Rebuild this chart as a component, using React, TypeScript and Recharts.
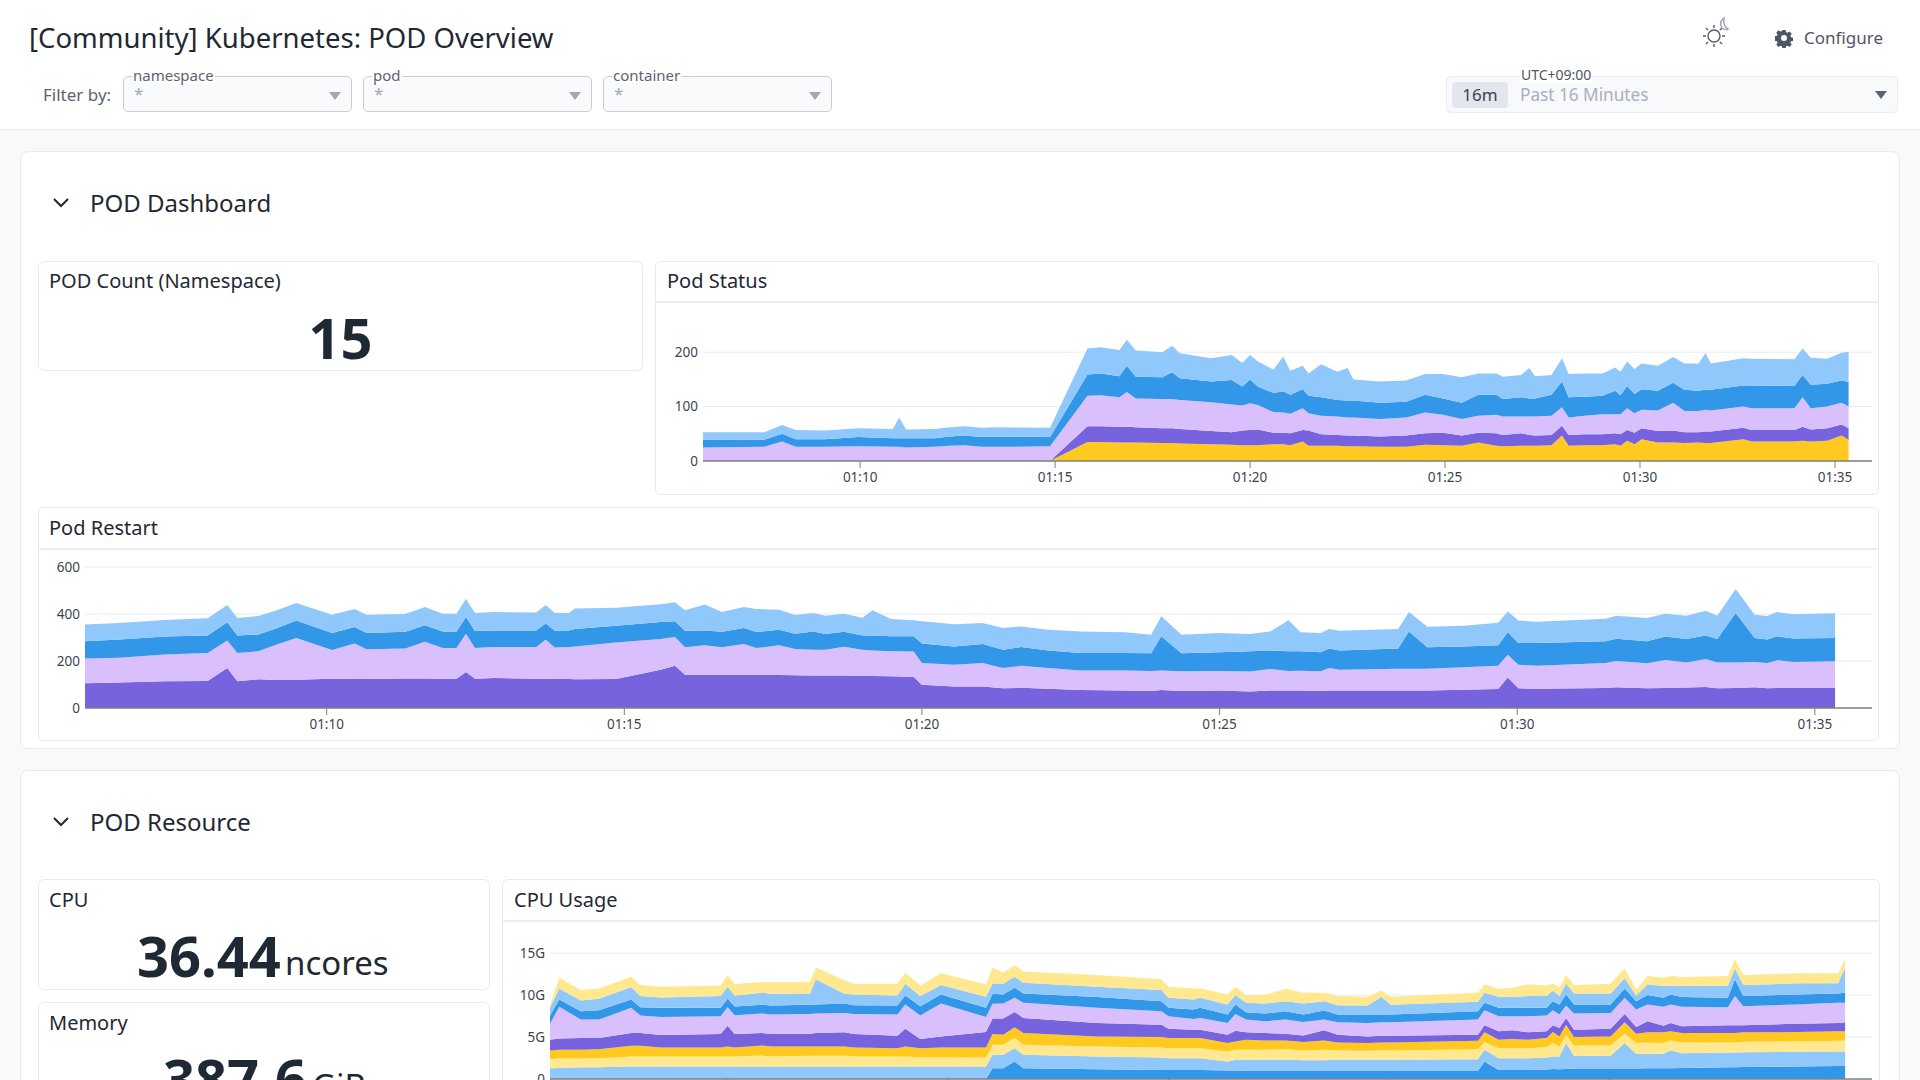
import { Area, AreaChart, CartesianGrid, XAxis, YAxis } from "recharts";

const timeTicks = [10, 15, 20, 25, 30, 35];

// Pod Status (minutes after 01:00, stacked counts, bottom to top)
const statusTimes = [5.97, 7.54, 8.0, 8.35, 9.1, 9.95, 10.84, 11.0, 11.18, 11.9, 12.3, 12.67, 13.1, 13.5, 14.87, 15.83, 16.17, 16.65, 16.84, 17.07, 17.75, 18.0, 18.2, 19.0, 19.53, 19.8, 20.0, 20.2, 20.6, 20.85, 21.03, 21.35, 21.5, 21.82, 22.24, 22.5, 22.65, 23.33, 24.0, 24.49, 24.95, 25.43, 25.85, 26.32, 26.48, 26.95, 27.16, 27.31, 27.73, 28.0, 28.17, 28.57, 29.04, 29.36, 29.5, 29.67, 29.86, 30.04, 30.46, 30.85, 31.14, 31.5, 31.68, 31.82, 32.65, 32.86, 33.96, 34.17, 34.38, 34.8, 35.17, 35.35];
const statusYellow = [0, 0, 0, 0, 0, 0, 0, 0, 0, 0, 0, 0, 0, 0, 0, 35, 35, 34, 34, 34, 33, 33, 32, 31, 30, 29, 29, 29, 31, 31, 29, 36, 28, 28, 28, 27, 27, 26, 26, 30, 29, 28, 34, 28, 27, 28, 28, 28, 29, 47, 28, 29, 29, 31, 28, 37, 31, 40, 34, 34, 33, 34, 33, 33, 40, 36, 36, 37, 36, 37, 47, 39];
const statusPurple = [0, 0, 0, 0, 0, 0, 0, 0, 0, 0, 0, 0, 0, 0, 0, 29, 29, 29, 29, 28, 27, 27, 27, 24, 23, 27, 28, 29, 21, 21, 22, 21, 28, 21, 20, 20, 20, 19, 21, 21, 23, 19, 18, 23, 21, 23, 20, 19, 19, 18, 20, 20, 20, 20, 21, 20, 21, 20, 21, 22, 20, 19, 21, 21, 21, 21, 21, 26, 22, 23, 20, 21];
const statusLilac = [25, 26, 36, 26, 26, 27, 26, 26, 25, 26, 28, 29, 26, 26, 27, 56, 57, 54, 64, 53, 54, 54, 53, 53, 51, 46, 49, 45, 38, 37, 36, 40, 32, 34, 34, 33, 33, 32, 33, 38, 33, 30, 31, 34, 34, 31, 34, 35, 35, 34, 32, 34, 37, 35, 37, 40, 36, 34, 38, 51, 39, 39, 40, 39, 39, 40, 40, 54, 39, 40, 40, 40];
const statusBlue = [14, 13, 14, 14, 14, 17, 16, 16, 17, 16, 17, 18, 18, 19, 17, 39, 40, 39, 48, 40, 40, 49, 40, 38, 45, 35, 44, 34, 35, 39, 35, 35, 32, 34, 30, 31, 31, 30, 29, 33, 30, 30, 39, 37, 32, 35, 33, 33, 39, 47, 37, 35, 34, 43, 35, 41, 35, 38, 36, 37, 39, 37, 37, 38, 39, 42, 41, 41, 43, 42, 41, 45];
const statusLight = [14, 14, 16, 17, 16, 16, 17, 38, 16, 17, 17, 17, 17, 17, 17, 48, 48, 48, 48, 48, 46, 49, 46, 43, 46, 43, 45, 46, 43, 64, 44, 43, 41, 61, 52, 60, 39, 39, 39, 38, 45, 47, 39, 39, 41, 41, 56, 41, 36, 43, 43, 43, 41, 43, 43, 45, 46, 47, 46, 47, 48, 50, 67, 48, 50, 49, 49, 49, 50, 46, 51, 56];

// Pod Restart
const restartTimes = [5.94, 6.52, 7.28, 8.0, 8.33, 8.5, 8.85, 9.16, 9.49, 10.09, 10.47, 10.67, 11.32, 11.65, 11.95, 12.18, 12.34, 12.49, 12.8, 13.52, 13.68, 13.83, 14.07, 14.17, 14.86, 15.61, 15.85, 16.02, 16.35, 16.64, 17.01, 17.22, 17.6, 17.87, 18.18, 18.38, 18.69, 19.0, 19.17, 19.48, 19.86, 20.0, 20.54, 21.02, 21.36, 21.67, 22.12, 22.67, 23.42, 23.85, 24.02, 24.36, 24.99, 25.51, 25.85, 26.16, 26.36, 26.7, 26.84, 27.01, 28.0, 28.18, 28.49, 29.1, 29.68, 29.84, 30.02, 30.33, 31.49, 31.66, 32.18, 32.49, 32.84, 33.17, 33.36, 33.67, 33.99, 34.2, 34.37, 34.64, 35.34];
const restartPurple = [105, 109, 114, 115, 170, 114, 122, 119, 120, 125, 123, 123, 126, 126, 125, 125, 153, 125, 128, 125, 125, 123, 123, 122, 123, 163, 180, 142, 142, 142, 142, 140, 140, 139, 138, 138, 138, 136, 136, 135, 132, 99, 92, 91, 84, 86, 82, 77, 74, 72, 77, 72, 75, 70, 75, 75, 74, 72, 74, 74, 75, 75, 75, 78, 81, 130, 84, 82, 85, 88, 84, 85, 87, 89, 84, 85, 88, 84, 85, 85, 85];
const restartLilac = [106, 105, 114, 119, 117, 120, 119, 151, 178, 122, 152, 127, 127, 156, 130, 130, 163, 130, 132, 135, 167, 134, 137, 140, 156, 131, 122, 116, 125, 116, 130, 115, 127, 112, 110, 110, 123, 112, 109, 106, 108, 92, 92, 100, 86, 94, 88, 83, 86, 85, 83, 84, 82, 85, 91, 82, 85, 84, 96, 89, 92, 92, 92, 95, 99, 97, 100, 98, 106, 112, 106, 119, 107, 119, 110, 109, 108, 107, 118, 111, 114];
const restartBlue = [73, 77, 76, 75, 78, 75, 72, 69, 74, 72, 70, 69, 72, 70, 71, 70, 71, 73, 70, 70, 68, 72, 70, 74, 71, 72, 67, 71, 63, 67, 68, 68, 66, 65, 78, 67, 64, 61, 63, 64, 65, 83, 78, 81, 78, 80, 75, 74, 74, 76, 145, 77, 80, 86, 79, 84, 82, 81, 83, 82, 86, 159, 91, 89, 87, 95, 93, 97, 93, 95, 94, 100, 100, 101, 100, 210, 102, 100, 102, 100, 99];
const restartLight = [71, 71, 70, 73, 73, 74, 78, 77, 75, 78, 76, 78, 75, 78, 75, 76, 78, 76, 78, 76, 78, 75, 74, 87, 77, 76, 81, 87, 110, 83, 90, 98, 85, 80, 78, 78, 76, 75, 108, 74, 68, 95, 94, 90, 92, 87, 88, 92, 88, 79, 85, 79, 82, 74, 81, 132, 81, 82, 83, 84, 83, 82, 88, 88, 96, 89, 95, 90, 96, 98, 99, 97, 99, 105, 99, 102, 99, 100, 103, 103, 105];

// CPU Usage (G)
const cpuTimes = [5.97, 6.18, 6.67, 7.08, 7.81, 8.02, 8.49, 9.84, 10.0, 10.16, 10.78, 10.99, 11.87, 12.0, 12.65, 12.86, 13.85, 14.03, 14.37, 14.84, 15.86, 16.01, 16.25, 16.51, 16.71, 18.38, 19.84, 20.0, 20.57, 20.72, 21.34, 21.52, 21.76, 22.18, 22.65, 23.06, 23.53, 23.84, 24.52, 24.83, 25.04, 27.02, 27.17, 27.49, 27.8, 28.16, 28.58, 28.72, 28.87, 29.02, 29.2, 30.03, 30.35, 30.61, 30.87, 31.23, 31.39, 31.65, 32.69, 32.85, 33.04, 34.25, 35.19, 35.35];
const cpuBlueLow = [0, 0, 0, 0, 0, 0, 0, 0, 0, 0, 0, 0, 0, 0, 0, 0, 0, 0, 0, 0, 0, 1.28, 1.28, 2.08, 1.28, 1.16, 1.08, 1.08, 1.08, 1.08, 1.0, 1.0, 0.96, 0.96, 0.96, 0.96, 0.96, 0.96, 0.96, 0.96, 0.96, 0.96, 2.08, 1.08, 1.08, 1.08, 1.12, 1.2, 1.16, 1.2, 1.24, 1.24, 1.24, 1.24, 1.28, 1.28, 1.28, 1.32, 1.4, 1.4, 1.44, 1.48, 1.56, 1.56];
const cpuLightLow = [1.28, 1.32, 1.4, 1.4, 1.48, 1.48, 1.48, 1.48, 1.48, 1.48, 1.48, 1.48, 1.48, 1.48, 1.48, 1.48, 1.48, 1.48, 1.48, 1.48, 1.48, 1.6, 1.6, 1.6, 1.6, 1.52, 1.48, 1.4, 1.4, 1.4, 1.08, 1.28, 1.32, 1.32, 1.32, 1.28, 1.28, 1.32, 1.32, 1.32, 1.32, 1.4, 1.4, 1.4, 1.4, 1.4, 1.44, 1.48, 1.52, 3.08, 1.52, 1.52, 3.04, 1.76, 1.72, 1.72, 2.12, 1.76, 1.76, 1.76, 1.76, 1.76, 1.72, 1.72];
const cpuPaleLow = [1.08, 1.12, 1.04, 1.08, 1.2, 1.2, 1.2, 1.2, 1.2, 1.2, 1.32, 1.2, 1.28, 1.28, 1.28, 1.2, 1.2, 1.2, 1.12, 1.12, 1.08, 1.2, 1.2, 1.2, 1.2, 1.2, 1.2, 1.2, 1.2, 1.2, 1.2, 1.2, 1.2, 1.2, 1.28, 1.16, 1.24, 1.12, 1.08, 1.12, 1.12, 1.2, 0.92, 1.2, 1.2, 1.2, 1.24, 1.6, 1.2, 1.0, 1.24, 1.24, 1.12, 1.28, 1.36, 1.28, 1.2, 1.28, 1.2, 1.2, 1.24, 1.24, 1.28, 1.28];
const cpuYellow = [1.04, 1.04, 1.04, 1.08, 1.28, 1.28, 1.08, 1.08, 1.2, 1.08, 1.2, 1.2, 1.12, 1.12, 1.12, 1.08, 1.0, 1.2, 1.08, 1.16, 1.2, 1.28, 1.2, 1.28, 1.4, 1.2, 1.24, 1.2, 1.2, 1.2, 1.0, 1.0, 1.2, 1.12, 1.04, 1.0, 1.12, 0.96, 0.92, 0.96, 0.96, 1.0, 1.16, 1.0, 1.08, 1.0, 1.08, 1.32, 1.2, 1.2, 1.0, 1.08, 1.36, 1.12, 1.2, 1.28, 1.08, 1.12, 1.12, 1.12, 1.12, 1.12, 1.12, 1.12];
const cpuPurple = [1.28, 1.36, 1.4, 1.32, 1.52, 1.52, 1.48, 1.6, 2.48, 1.6, 1.48, 1.48, 1.52, 1.6, 1.68, 1.6, 1.48, 2.12, 1.08, 1.32, 1.84, 1.84, 1.92, 1.84, 1.8, 1.6, 1.48, 1.12, 1.0, 1.0, 1.0, 1.28, 0.88, 0.88, 0.8, 0.8, 1.2, 0.92, 0.8, 0.8, 0.8, 0.72, 0.84, 1.0, 1.04, 0.88, 0.8, 0.8, 1.0, 0.8, 0.88, 0.92, 1.0, 0.8, 1.32, 0.8, 1.0, 0.8, 0.92, 0.92, 0.84, 1.0, 1.0, 1.08];
const cpuLilac = [1.92, 3.76, 2.2, 2.2, 3.0, 2.08, 2.16, 2.12, 2.2, 2.24, 2.32, 2.32, 2.36, 2.32, 2.32, 2.4, 2.52, 2.88, 2.8, 3.92, 1.8, 1.76, 1.8, 1.68, 1.8, 1.8, 1.6, 1.48, 1.28, 1.4, 1.4, 2.0, 1.52, 1.4, 1.68, 1.6, 1.28, 1.48, 1.6, 1.6, 1.6, 1.8, 1.8, 1.8, 1.68, 1.92, 1.88, 1.8, 1.6, 1.48, 1.92, 1.88, 1.92, 2.08, 2.0, 2.24, 2.2, 2.32, 2.16, 3.48, 2.28, 2.28, 2.4, 2.32];
const cpuBlueHigh = [0.96, 0.88, 1.0, 1.12, 1.0, 1.0, 1.08, 1.0, 1.0, 1.04, 1.04, 1.08, 1.08, 1.08, 1.12, 1.04, 1.08, 1.08, 1.12, 1.08, 1.08, 1.2, 1.08, 1.2, 1.12, 1.28, 1.2, 1.0, 1.12, 1.2, 1.0, 1.12, 0.88, 0.92, 1.0, 0.88, 1.08, 0.92, 1.0, 0.92, 0.92, 1.0, 0.88, 1.0, 1.0, 1.0, 0.92, 1.08, 1.2, 1.32, 1.08, 1.0, 1.12, 1.0, 1.12, 1.08, 1.2, 1.16, 1.12, 2.0, 1.2, 1.2, 1.12, 1.2];
const cpuLightHigh = [0.92, 1.32, 1.28, 1.36, 1.48, 1.32, 1.24, 1.4, 1.44, 1.32, 1.44, 1.4, 1.36, 3.0, 1.16, 1.28, 1.2, 1.4, 1.2, 1.12, 1.32, 1.24, 1.28, 1.32, 1.28, 1.24, 1.32, 1.2, 1.2, 1.2, 1.2, 1.12, 1.12, 1.2, 1.2, 1.32, 1.12, 1.12, 1.08, 2.12, 1.16, 1.12, 1.2, 1.32, 1.32, 1.4, 1.4, 1.28, 1.0, 1.32, 1.32, 1.32, 1.2, 0.68, 1.28, 1.4, 1.08, 1.32, 1.4, 1.28, 1.32, 1.32, 1.2, 3.0];
const cpuPaleHigh = [0.28, 1.28, 1.24, 1.24, 1.24, 1.32, 1.28, 1.28, 1.36, 1.36, 1.28, 1.4, 1.36, 1.4, 1.6, 1.28, 1.4, 1.32, 1.28, 1.4, 1.48, 1.88, 1.32, 1.4, 1.32, 1.4, 1.28, 1.32, 1.32, 1.12, 1.2, 1.0, 0.92, 1.0, 1.48, 1.28, 1.0, 1.08, 1.04, 0.76, 0.96, 1.08, 1.0, 0.96, 1.08, 1.4, 1.28, 0.84, 1.0, 1.0, 1.0, 1.16, 1.2, 0.72, 1.0, 1.0, 1.12, 1.08, 1.2, 1.12, 1.2, 1.2, 1.2, 1.0];

const YELLOW = "#ffc91f";
const PALE = "#ffe88f";
const PURPLE = "#7763dd";
const LILAC = "#d9c0fc";
const BLUE = "#3297e8";
const LIGHT = "#90c8fc";

const FONT = '"Noto Sans", sans-serif';
const INK = "#1f2933";

type Band = { values: number[]; color: string };

function StackChart(props: { times: number[]; bands: Band[]; left: number; top: number; width: number; yWidth: number; marginTop: number; height: number; domainX: [number, number]; domainY: [number, number]; ticksY: number[]; unit?: string }) {
  const { times, bands, left, top, width, yWidth, marginTop, height, domainX, domainY, ticksY, unit } = props;
  const data = times.map((t, i) => {
    const row: Record<string, number> = { t };
    bands.forEach((b, j) => {
      row[`s${j}`] = b.values[i];
    });
    return row;
  });
  return (
    <div style={{ position: "absolute", left, top }}>
      <AreaChart width={width} height={height} data={data} margin={{ top: marginTop, right: 7, left: 0, bottom: 0 }}>
        <CartesianGrid horizontal vertical={false} syncWithTicks stroke="#e8eaef" />
        <XAxis
          dataKey="t"
          type="number"
          domain={domainX}
          allowDataOverflow
          ticks={timeTicks}
          interval={0}
          height={30}
          tickSize={7}
          tickMargin={4}
          tickFormatter={(v) => `01:${v}`}
          tick={{ fontSize: 13.5, fill: "#3d4450", fontFamily: FONT }}
          axisLine={{ stroke: "#808080", strokeWidth: 1.5 }}
          tickLine={{ stroke: "#808080" }}
        />
        <YAxis
          type="number"
          width={yWidth}
          domain={domainY}
          ticks={ticksY}
          interval={0}
          tickSize={0}
          tickMargin={5}
          axisLine={false}
          tickLine={false}
          tickFormatter={(v) => (v === 0 || !unit ? String(v) : `${v}${unit}`)}
          tick={{ fontSize: 13.5, fill: "#3d4450", fontFamily: FONT }}
        />
        {bands.map((b, j) => (
          <Area key={j} dataKey={`s${j}`} stackId="1" type="linear" stroke="none" fill={b.color} fillOpacity={1} dot={false} activeDot={false} isAnimationActive={false} />
        ))}
      </AreaChart>
    </div>
  );
}

function Text(props: { x: number; cy: number; size: number; color?: string; weight?: number; children: string }) {
  return (
    <div style={{ position: "absolute", left: props.x, top: props.cy - 30, height: 60, lineHeight: "60px", fontSize: props.size, color: props.color ?? INK, fontWeight: props.weight ?? 400, whiteSpace: "nowrap" }}>
      {props.children}
    </div>
  );
}

function Card(props: { left: number; top: number; right: number; bottom: number; radius?: number; line?: number }) {
  const { left, top, right, bottom, radius = 6, line } = props;
  return (
    <>
      <div style={{ position: "absolute", left, top, width: right - left, height: bottom - top, boxSizing: "border-box", background: "#fff", border: "1.5px solid #e7e9ed", borderRadius: radius }} />
      {line ? <div style={{ position: "absolute", left, top: line, width: right - left, height: 1.5, background: "#eceef1" }} /> : null}
    </>
  );
}

function Caret(props: { x: number; y: number; color?: string }) {
  return <div style={{ position: "absolute", left: props.x - 6, top: props.y - 3, width: 0, height: 0, borderLeft: "6px solid transparent", borderRight: "6px solid transparent", borderTop: `8px solid ${props.color ?? "#a3a8b2"}` }} />;
}

function Select(props: { left: number; label: string }) {
  return (
    <>
      <div style={{ position: "absolute", left: props.left, top: 76, width: 229, height: 36, boxSizing: "border-box", background: "#f9fafc", border: "1.5px solid #c9cdd4", borderRadius: 5 }} />
      <div style={{ position: "absolute", left: props.left + 9, top: 67, height: 16, lineHeight: "16px", padding: "0 1px", fontSize: 15, color: "#5c6370", background: "#fff" }}>{props.label}</div>
      <Text x={props.left + 11} cy={94} size={17} color="#a3a8b2">*</Text>
      <Caret x={props.left + 212} y={95} />
    </>
  );
}

function Chevron(props: { x: number; y: number }) {
  return (
    <svg style={{ position: "absolute", left: props.x - 10, top: props.y - 8 }} width={20} height={16}>
      <polyline points="3,4 10,11 17,4" fill="none" stroke={INK} strokeWidth={2} />
    </svg>
  );
}

function ThemeIcon() {
  return (
    <svg style={{ position: "absolute", left: 1698, top: 16 }} width={36} height={34} fill="none" stroke="#555c68" strokeWidth={1.4}>
      <circle cx={16} cy={20} r={6} />
      <path d="M16 9v3M16 28v3M5 20h3M24 20h3M8 12l2 2M22 26l2 2M8 28l2-2M22 14l2-2" />
      <path d="M26 2c-3 2-5 6-2 10 2 2 5 2 6 1-3-1-5-6-4-11z" stroke="#9aa0ab" />
    </svg>
  );
}

function GearIcon() {
  return (
    <svg style={{ position: "absolute", left: 1774, top: 28 }} width={20} height={20} viewBox="0 0 20 20">
      <path fill="#4f5663" fillRule="evenodd" d="M8.2 1h3.6l.5 2.6 1.6.7 2.2-1.5 2.5 2.5-1.5 2.2.7 1.6 2.2.5v3.6l-2.2.5-.7 1.6 1.5 2.2-2.5 2.5-2.2-1.5-1.6.7-.5 2.2H8.2l-.5-2.2-1.6-.7-2.2 1.5-2.5-2.5 1.5-2.2-.7-1.6-2.2-.5V8.1l2.2-.5.7-1.6-1.5-2.2 2.5-2.5 2.2 1.5 1.6-.7zM10 6.7a3.3 3.3 0 1 0 0 6.6 3.3 3.3 0 0 0 0-6.6z" transform="translate(1 1) scale(0.9)" />
    </svg>
  );
}

export default function App() {
  return (
    <div style={{ position: "fixed", left: 0, top: 0, width: 1920, height: 1080, overflow: "hidden", background: "#f7f9fb", fontFamily: FONT }}>
      {/* top bar */}
      <div style={{ position: "absolute", left: 0, top: 0, width: 1920, height: 129, background: "#fff", borderBottom: "1.5px solid #e9ebef" }} />
      <Text x={29} cy={38} size={27.5}>[Community] Kubernetes: POD Overview</Text>
      <Text x={43} cy={95} size={17} color="#5c6370">Filter by:</Text>
      <Select left={123} label="namespace" />
      <Select left={363} label="pod" />
      <Select left={603} label="container" />
      <ThemeIcon />
      <GearIcon />
      <Text x={1804} cy={38} size={17} color="#4f5663">Configure</Text>
      <div style={{ position: "absolute", left: 1446, top: 76, width: 452, height: 37, boxSizing: "border-box", background: "#f8f9fb", border: "1.5px solid #eceef2", borderRadius: 5 }} />
      <div style={{ position: "absolute", left: 1520, top: 67, height: 16, lineHeight: "16px", padding: "0 1px", fontSize: 14, color: "#4f5663", background: "#fff" }}>UTC+09:00</div>
      <div style={{ position: "absolute", left: 1452, top: 82, width: 56, height: 26, lineHeight: "26px", textAlign: "center", background: "#e3e6ed", borderRadius: 4, fontSize: 17, color: "#3d4450" }}>16m</div>
      <Text x={1520} cy={95} size={17.2} color="#a9afbb">Past 16 Minutes</Text>
      <Caret x={1881} y={94} color="#5c6370" />

      {/* POD Dashboard */}
      <Card left={20} top={151} right={1900} bottom={749} radius={8} />
      <Chevron x={61} y={203} />
      <Text x={90} cy={203} size={24}>POD Dashboard</Text>

      <Card left={38} top={261} right={643} bottom={371} />
      <Text x={49} cy={281} size={20}>POD Count (Namespace)</Text>
      <div style={{ position: "absolute", left: 38, width: 605, top: 297, height: 80, lineHeight: "80px", textAlign: "center", fontSize: 56, fontWeight: 700, color: INK }}>15</div>

      <Card left={655} top={261} right={1879} bottom={495} line={301} />
      <Text x={667} cy={281} size={20}>Pod Status</Text>
      <StackChart
        times={statusTimes}
        bands={[
          { values: statusYellow, color: YELLOW },
          { values: statusPurple, color: PURPLE },
          { values: statusLilac, color: LILAC },
          { values: statusBlue, color: BLUE },
          { values: statusLight, color: LIGHT },
        ]}
        left={655}
        top={303}
        width={1224}
        yWidth={48}
        marginTop={22}
        height={188}
        domainX={[5.97, 35.95]}
        domainY={[0, 250]}
        ticksY={[0, 100, 200]}
      />

      <Card left={38} top={507} right={1879} bottom={741} line={548} />
      <Text x={49} cy={528} size={20}>Pod Restart</Text>
      <StackChart
        times={restartTimes}
        bands={[
          { values: restartPurple, color: PURPLE },
          { values: restartLilac, color: LILAC },
          { values: restartBlue, color: BLUE },
          { values: restartLight, color: LIGHT },
        ]}
        left={38}
        top={550}
        width={1841}
        yWidth={47}
        marginTop={17}
        height={188}
        domainX={[5.94, 35.96]}
        domainY={[0, 600]}
        ticksY={[0, 200, 400, 600]}
      />

      {/* POD Resource */}
      <Card left={20} top={770} right={1900} bottom={1200} radius={8} />
      <Chevron x={61} y={822} />
      <Text x={90} cy={822} size={24}>POD Resource</Text>

      <Card left={38} top={879} right={490} bottom={990} />
      <Text x={49} cy={900} size={20}>CPU</Text>
      <Text x={137} cy={955} size={56} weight={700}>36.44</Text>
      <Text x={285} cy={963} size={33}>ncores</Text>

      <Card left={38} top={1002} right={490} bottom={1200} />
      <Text x={49} cy={1023} size={20}>Memory</Text>
      <Text x={163} cy={1078} size={56} weight={700}>387.6</Text>
      <Text x={312} cy={1086} size={33}>GiB</Text>

      <Card left={502} top={879} right={1880} bottom={1200} line={920} />
      <Text x={514} cy={900} size={20}>CPU Usage</Text>
      <StackChart
        times={cpuTimes}
        bands={[
          { values: cpuBlueLow, color: BLUE },
          { values: cpuLightLow, color: LIGHT },
          { values: cpuPaleLow, color: PALE },
          { values: cpuYellow, color: YELLOW },
          { values: cpuPurple, color: PURPLE },
          { values: cpuLilac, color: LILAC },
          { values: cpuBlueHigh, color: BLUE },
          { values: cpuLightHigh, color: LIGHT },
          { values: cpuPaleHigh, color: PALE },
        ]}
        left={503}
        top={921}
        width={1376}
        yWidth={47}
        marginTop={7}
        height={188}
        domainX={[5.97, 35.96]}
        domainY={[0, 18]}
        ticksY={[0, 5, 10, 15]}
        unit="G"
      />
    </div>
  );
}
